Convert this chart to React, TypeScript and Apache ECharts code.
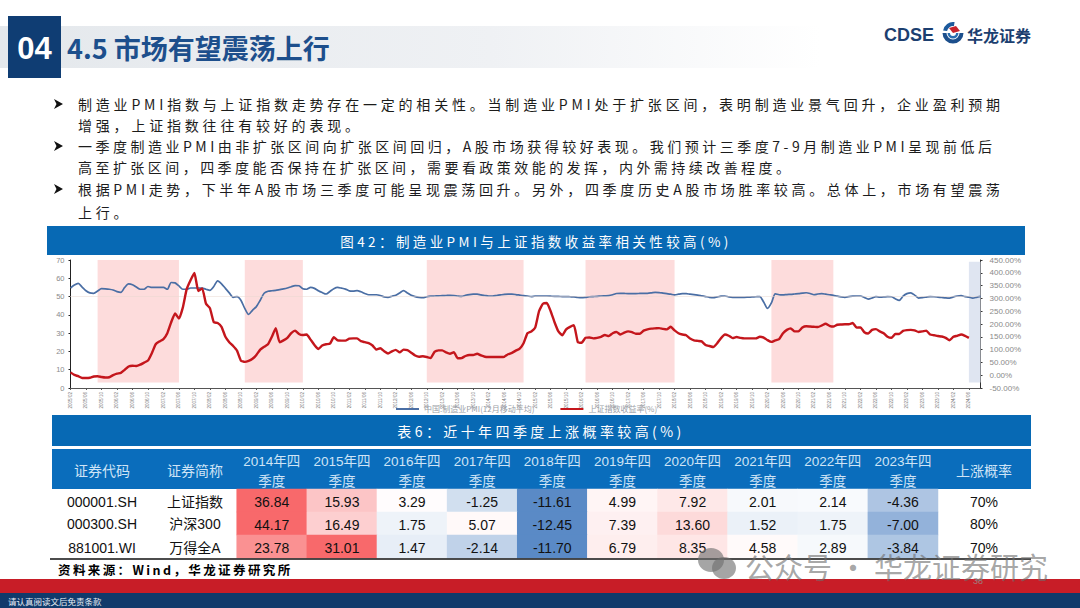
import React, { useEffect, useRef } from "react";
import * as echarts from "echarts";

const sans = "'Noto Sans CJK SC', sans-serif";
const latin = "'Liberation Sans', 'Noto Sans CJK SC', sans-serif";

// ---------- text ----------
const sectionNo = "04";
const sectionTitle = "4.5 市场有望震荡上行";
const bulletLines = [
  "制造业PMI指数与上证指数走势存在一定的相关性。当制造业PMI处于扩张区间，表明制造业景气回升，企业盈利预期",
  "增强，上证指数往往有较好的表现。",
  "一季度制造业PMI由非扩张区间向扩张区间回归，A股市场获得较好表现。我们预计三季度7-9月制造业PMI呈现前低后",
  "高至扩张区间，四季度能否保持在扩张区间，需要看政策效能的发挥，内外需持续改善程度。",
  "根据PMI走势，下半年A股市场三季度可能呈现震荡回升。另外，四季度历史A股市场胜率较高。总体上，市场有望震荡",
  "上行。",
];
const bulletFlags = [true, false, true, false, true, false];
const chartTitle = "图42：制造业PMI与上证指数收益率相关性较高(%)";
const tableTitle = "表6：近十年四季度上涨概率较高(%)";
const sourceText = "资料来源：Wind，华龙证券研究所";
const disclaimer = "请认真阅读文后免责条款";
const watermark = "公众号 · 华龙证券研究";
const pageNo = "38";

// ---------- line chart ----------
const pmiName = "中国:制造业PMI(12月移动平均)";
const sseName = "上证指数收益率(%)";
const leftTicks = { min: 0, max: 70, interval: 10 };
const rightTicks = { min: -50, max: 450, interval: 50 };

const months: string[] = [];
for (let y = 2005, m = 2; months.length < 236; m++) {
  if (m > 12) { m = 1; y++; }
  months.push(`${y}/${String(m).padStart(2, "0")}`);
}

const pmi = [
  54.7,56.3,57.2,55.2,53.2,52,51.8,53,54.3,54.2,54,53.6,52.7,52.3,55,56.9,56.5,55.2,54,54,55.5,55,55,55,55,54,57.7,57.5,55.8,54,
  54,54.7,54.7,54.7,54.6,54,53.4,55.5,58.6,57,54.5,52,49.6,50,48,43.5,40.2,42.5,44.5,48,51.8,52.9,53.2,53.4,53.8,54.2,54.7,55.4,56,55.9,
  54.3,54,55,54.5,53.2,52.2,51.4,52.8,54.3,55,54.6,54.1,53.1,53,53.2,52.6,51.7,51,51,51,50.6,49.8,49.6,50.2,50.7,52,53.2,52,50.7,50,
  49.6,49.4,49.9,50.2,50.3,50.4,50.5,50.6,50.7,50.6,50.3,50.1,50.7,51.1,51.3,51.3,50.9,50.6,50.3,50.3,50.6,50.9,51.2,51.3,51.3,51.1,50.8,50.5,50.3,50,
  50.3,50.3,50.3,50.3,50.2,50.1,50.1,50,50,49.9,49.8,49.5,49.4,49.6,49.9,50,50.1,50.3,50.4,50.5,51,51.7,51.8,51.7,51.6,51.6,51.6,51.7,51.8,51.8,
  52,52.3,52.2,51.9,51.6,51.3,50.9,51.3,51.6,51.6,51.3,51.1,50.8,50.4,50,49.6,49.4,49.8,50.2,50.3,49.8,49.6,49.6,49.6,49.6,49.7,49.8,49.9,50,47,
  43.5,46.5,51.5,51,50.9,51.1,51.2,51.4,51.6,51.9,52.1,51.7,51,51.4,51.6,51.3,51,50.7,50.2,49.8,49.6,50,50.2,50.3,50.3,49.5,48.6,49.2,50,49.7,
  49.8,50,49.9,48.8,47.9,50.2,51.6,52,50.8,49.2,49.4,49.7,50,49.9,49.7,49.5,49.3,49.2,49.8,50.3,50.5,50,49.7,49.2,49.6,50.1,
];

const sse: (number | null)[] = [
  11,1,-4,-11,-11,-10,-5,-4,-7,-9,-8,0,6,9,21,34,37,36,41,49,57,86,121,132,141,164,207,241,221,264,
  336,371,399,329,339,279,262,207,204,189,150,129,114,96,57,52,56,64,79,100,111,121,150,184,129,136,146,164,174,161,
  157,159,139,118,102,116,121,123,148,136,135,135,143,144,144,133,129,125,116,100,105,94,85,93,99,89,100,98,88,77,
  72,74,71,67,91,97,97,89,84,90,66,67,75,79,79,84,77,72,71,71,71,71,72,82,87,96,104,125,164,171,
  186,250,279,282,250,207,171,156,179,189,195,130,127,146,147,144,146,150,157,153,164,169,159,166,171,168,162,162,174,179,
  182,183,184,181,179,189,175,164,159,156,143,136,134,132,118,114,110,125,145,159,154,145,149,146,144,144,144,144,150,147,
  137,130,136,141,164,177,183,171,171,186,191,190,189,188,194,201,193,190,197,198,199,199,204,186,187,168,163,177,180,171,
  164,150,146,161,161,173,176,177,175,169,171,174,159,156,153,151,146,136,150,154,159,154,146,null,null,null,
];

// expansion phases marked on the chart, as month labels
const pinkBands = [
  ["2005/09", "2007/06"],
  ["2008/11", "2010/02"],
  ["2012/10", "2014/11"],
  ["2016/03", "2018/02"],
  ["2020/03", "2021/07"],
];
const forecastBand = ["2024/06", "2024/09"];

// ---------- table ----------
const tableYears = ["2014年四\n季度","2015年四\n季度","2016年四\n季度","2017年四\n季度","2018年四\n季度","2019年四\n季度","2020年四\n季度","2021年四\n季度","2022年四\n季度","2023年四\n季度"];
const codes = ["000001.SH", "000300.SH", "881001.WI"];
const names = ["上证指数", "沪深300", "万得全A"];
const row1 = [36.84, 15.93, 3.29, -1.25, -11.61, 4.99, 7.92, 2.01, 2.14, -4.36];
const row2 = [44.17, 16.49, 1.75, 5.07, -12.45, 7.39, 13.60, 1.52, 1.75, -7.00];
const row3 = [23.78, 31.01, 1.47, -2.14, -11.70, 6.79, 8.35, 4.58, 2.89, -3.84];
const upRates = ["70%", "80%", "70%"];
const tableRows = [row1, row2, row3];

// Excel style 3-colour scale per row: min -1, median 0, max +1
function rowScale(row: number[], v: number) {
  const s = [...row].sort((p, q) => p - q);
  const med = (s[4] + s[5]) / 2;
  return v >= med ? (v - med) / (s[9] - med) : -(med - v) / (med - s[0]);
}

const heatData = tableRows.flatMap((row, r) =>
  row.map((v, c) => [c, r, v, rowScale(row, v)]),
);

// letter-spacing is applied by matching these nearly-black fills
const bulletFills = ["#1c1c1a", "#1c1c1b", "#1c1c1c", "#1c1c1d", "#1c1c1e", "#1c1c1f"];
const bulletSpacing = [3.8, 3.8, 3.5, 3.45, 3.67, 3.8];
const TITLE_FILL = "#fdfdfe";
const SOURCE_FILL = "#000001";

function buildOption() {
  const graphic: any[] = [];
  const rect = (x: number, y: number, w: number, h: number, fill: any, z = 0) =>
    graphic.push({ type: "rect", shape: { x, y, width: w, height: h }, style: { fill }, z, silent: true });
  const text = (x: number, y: number, t: string, font: string, fill: string, align = "left", z = 5, extra: any = {}) =>
    graphic.push({ type: "text", x, y, z, silent: true, style: { text: t, font, fill, align, verticalAlign: "middle", ...extra } });

  // header
  rect(0, 26, 820, 42, new echarts.graphic.LinearGradient(0, 0, 1, 0, [
    { offset: 0, color: "#e4e8ec" },
    { offset: 0.6, color: "#eff1f4" },
    { offset: 1, color: "#ffffff" },
  ]));
  rect(8, 16, 53, 62, "#0f3d73", 2);
  text(34.5, 48, sectionNo, `bold 31px ${latin}`, "#ffffff", "center");
  text(67, 47, sectionTitle, `bold 27px ${sans}`, "#1d4f8c");

  // logo
  text(884, 34.5, "CDSE", `bold 18px ${latin}`, "#1c3f70");
  graphic.push({ type: "sector", shape: { cx: 953, cy: 32, r: 10, r0: 6, startAngle: Math.PI * 1.05, endAngle: Math.PI * 1.55 }, style: { fill: "#1c5a9c" }, z: 5, silent: true });
  graphic.push({ type: "sector", shape: { cx: 953, cy: 33, r: 10.5, r0: 6.5, startAngle: 0, endAngle: Math.PI }, style: { fill: "#1c4f8c" }, z: 5, silent: true });
  graphic.push({ type: "sector", shape: { cx: 953, cy: 33, r: 5.5, r0: 3, startAngle: 0, endAngle: Math.PI }, style: { fill: "#2a6db0" }, z: 5, silent: true });
  graphic.push({ type: "polygon", shape: { points: [[949, 28], [956, 26], [960, 31], [953, 33]] }, style: { fill: "#c8232c" }, z: 5, silent: true });
  text(967, 35, "华龙证券", `bold 16px ${sans}`, "#1c3f70");

  // bullets
  const ys = [104, 125, 146, 167, 189, 212];
  bulletLines.forEach((line, i) => {
    if (bulletFlags[i]) {
      graphic.push({ type: "polygon", shape: { points: [[54, ys[i] - 5], [63, ys[i]], [54, ys[i] + 5], [56.5, ys[i]]] }, style: { fill: "#111111" }, z: 5, silent: true });
    }
    text(78, ys[i], line, `14px ${sans}`, bulletFills[i]);
  });

  // section bars
  rect(47, 226, 978, 29, "#0769b4");
  text(536, 241, chartTitle, `13.5px ${sans}`, TITLE_FILL, "center");
  rect(52, 415, 979, 31, "#0769b4");
  text(541, 431, tableTitle, `14px ${sans}`, TITLE_FILL, "center");

  // table chrome
  rect(52, 449, 979, 40, "#0a6dbc");
  const headColor = "#cfe4f6";
  text(102, 470, "证券代码", `14px ${sans}`, headColor, "center");
  text(195, 470, "证券简称", `14px ${sans}`, headColor, "center");
  text(984, 470, "上涨概率", `14px ${sans}`, headColor, "center");
  [501.5, 524, 548].forEach((y, i) => {
    text(102, y, codes[i], `14px ${latin}`, "#111111", "center");
    text(195, y, names[i], `14px ${latin}`, "#111111", "center");
    text(984, y, upRates[i], `14px ${latin}`, "#111111", "center");
  });
  graphic.push({ type: "line", shape: { x1: 50, y1: 559, x2: 1031, y2: 559 }, style: { stroke: "#111111", lineWidth: 1.5 }, z: 6, silent: true });
  text(58, 569.5, sourceText, `bold 12.5px ${sans}`, SOURCE_FILL);

  // footer
  rect(0, 579, 1080, 14, "#c81d27", 3);
  rect(0, 593, 1080, 15, "#103a6b", 3);
  text(8, 601, disclaimer, `8.5px ${sans}`, "#e8eef5");

  // watermark
  const wm = "rgba(110,110,110,0.62)";
  graphic.push({ type: "ellipse", shape: { cx: 711, cy: 560, rx: 13, ry: 12 }, style: { fill: wm }, z: 8, silent: true });
  graphic.push({ type: "ellipse", shape: { cx: 724, cy: 568, rx: 12, ry: 11 }, style: { fill: wm }, z: 8, silent: true });
  text(745, 566, watermark, `29px ${sans}`, wm, "left", 8);
  text(978, 581, pageNo, `9px ${latin}`, "rgba(150,150,150,0.8)", "center", 8);

  const band = (b: string[], y0: number, y1: number) => [
    { xAxis: b[0], yAxis: y0 },
    { xAxis: b[1], yAxis: y1 },
  ];

  return {
    animation: false,
    backgroundColor: "#ffffff",
    textStyle: { fontFamily: latin },
    graphic: { elements: graphic },
    legend: {
      left: 396,
      top: 405,
      padding: 0,
      itemWidth: 23,
      itemHeight: 2,
      itemGap: 26,
      icon: "rect",
      itemStyle: { borderWidth: 0 },
      textStyle: { fontSize: 8, color: "#9a9ea6", fontFamily: sans },
      data: [pmiName, sseName],
    },
    grid: [
      { left: 70.5, top: 260, width: 910, height: 128 },
      { left: 236.7, top: 489, width: 701.3, height: 69 },
    ],
    xAxis: [
      {
        gridIndex: 0,
        type: "category",
        data: months,
        boundaryGap: false,
        axisLine: { lineStyle: { color: "#555555", width: 1 } },
        axisTick: { interval: 3, length: 2, lineStyle: { color: "#555555" } },
        axisLabel: { interval: 3, rotate: 90, fontSize: 4.6, color: "#777777", margin: 4 },
        splitLine: { show: false },
      },
      {
        gridIndex: 1,
        type: "category",
        position: "top",
        data: tableYears,
        axisLine: { show: false },
        axisTick: { show: false },
        axisLabel: { fontSize: 13.5, lineHeight: 20, color: headColor, margin: -2, fontFamily: latin, interval: 0 },
        splitLine: { show: false },
        z: 6,
      },
    ],
    yAxis: [
      {
        gridIndex: 0,
        type: "value",
        ...leftTicks,
        position: "left",
        axisLine: { show: true, lineStyle: { color: "#222222", width: 1 } },
        axisTick: { show: true, length: 2, lineStyle: { color: "#222222" } },
        axisLabel: { fontSize: 7.5, color: "#8a8a8a", margin: 6 },
        splitLine: { show: false },
      },
      {
        gridIndex: 0,
        type: "value",
        ...rightTicks,
        position: "right",
        axisLine: { show: true, lineStyle: { color: "#333333", width: 1 } },
        axisTick: { show: true, length: 2, lineStyle: { color: "#333333" } },
        axisLabel: { fontSize: 8, color: "#8a8a8a", margin: 9, formatter: (v: number) => `${v.toFixed(2)}%` },
        splitLine: { show: false },
      },
      {
        gridIndex: 1,
        type: "category",
        data: codes,
        inverse: true,
        show: false,
      },
    ],
    visualMap: {
      show: false,
      type: "continuous",
      seriesIndex: 2,
      dimension: 3,
      min: -1,
      max: 1,
      inRange: { color: ["#5a8ac6", "#ffffff", "#f8696b"] },
    },
    series: [
      {
        name: pmiName,
        type: "line",
        xAxisIndex: 0,
        yAxisIndex: 0,
        data: pmi,
        showSymbol: false,
        smooth: 0.25,
        lineStyle: { color: "#4a6ea4", width: 1.7 },
        itemStyle: { color: "#4a6ea4" },
        z: 4,
        markArea: {
          silent: true,
          z: 1,
          itemStyle: { color: "#fddcdc" },
          data: pinkBands.map((b) => band(b, 3, 70)),
        },
        markLine: {
          silent: true,
          symbol: "none",
          label: { show: false },
          lineStyle: { color: "#e8d8d0", type: "dotted", width: 1 },
          data: [{ yAxis: 50 }],
        },
      },
      {
        name: sseName,
        type: "line",
        xAxisIndex: 0,
        yAxisIndex: 1,
        data: sse,
        showSymbol: false,
        smooth: 0.15,
        connectNulls: false,
        lineStyle: { color: "#c4161c", width: 2.4 },
        itemStyle: { color: "#c4161c" },
        z: 5,
        markArea: {
          silent: true,
          z: 1,
          itemStyle: { color: "#dfe5f1" },
          data: [[{ xAxis: forecastBand[0], yAxis: -28.6 }, { xAxis: forecastBand[1], yAxis: 443 }]],
        },
      },
      {
        type: "heatmap",
        xAxisIndex: 1,
        yAxisIndex: 2,
        data: heatData,
        encode: { x: 0, y: 1, value: 3 },
        progressive: 0,
        label: {
          show: true,
          fontSize: 14,
          color: "#111111",
          fontFamily: latin,
          offset: [0, 1],
          formatter: (p: any) => p.value[2].toFixed(2),
        },
        itemStyle: { borderWidth: 0 },
      },
    ],
  };
}

export default function App() {
  const ref = useRef<HTMLDivElement>(null);
  useEffect(() => {
    document.body.style.margin = "0";
    const chart = echarts.init(ref.current!, undefined, { renderer: "svg" });
    chart.setOption(buildOption() as any);
    return () => chart.dispose();
  }, []);
  const css =
    bulletFills.map((f, i) => `svg text[fill="${f}"] { letter-spacing: ${bulletSpacing[i]}px; }`).join("\n") +
    `\nsvg text[fill="${TITLE_FILL}"] { letter-spacing: 3.4px; }\nsvg text[fill="${SOURCE_FILL}"] { letter-spacing: 2.4px; }`;
  return (
    <>
      <style>{css}</style>
      <div ref={ref} style={{ width: 1080, height: 608, background: "#fff" }} />
    </>
  );
}
